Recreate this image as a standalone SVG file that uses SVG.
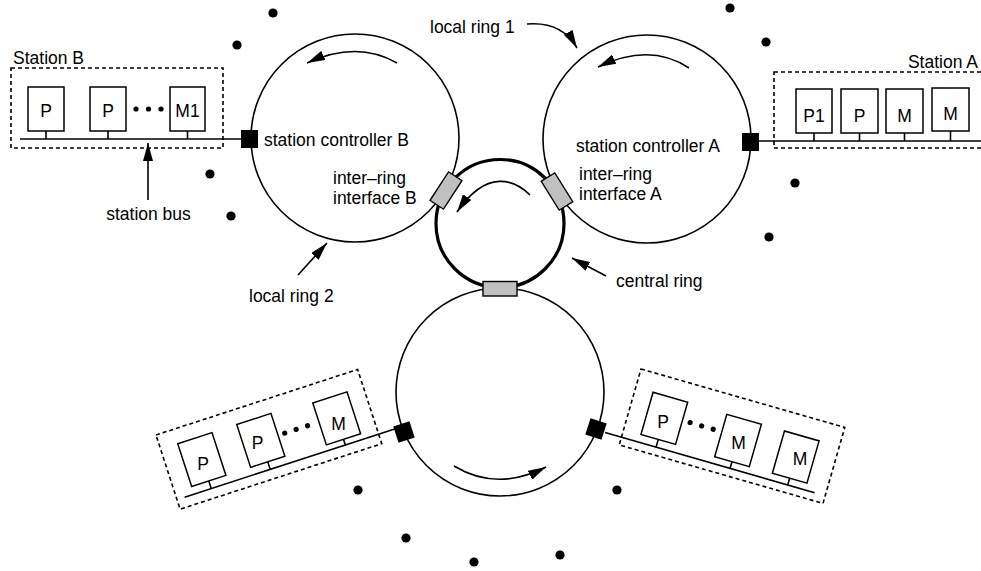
<svg xmlns="http://www.w3.org/2000/svg" width="981" height="571" viewBox="0 0 981 571">
  <style>
    .ring { fill: none; stroke: #000; stroke-width: 1.6; }
    .central { fill: none; stroke: #000; stroke-width: 3.2; }
    .iface { fill: #c0c0c0; stroke: #000; stroke-width: 1.4; }
    .ctrl { fill: #000; }
    .frame { fill: none; stroke: #000; stroke-width: 1.6; stroke-dasharray: 4 3; }
    .unit { fill: #fff; stroke: #000; stroke-width: 1.5; }
    .bus { fill: none; stroke: #000; stroke-width: 1.6; }
    .arrow { fill: none; stroke: #000; stroke-width: 1.6; marker-end: url(#head); }
    .dot { fill: #000; }
    text { font-family: "Liberation Sans", Arial, sans-serif; font-size: 17.5px; fill: #000; }
    .c { text-anchor: middle; }
    .e { text-anchor: end; }
  </style>
  <defs>
    <marker id="head" markerUnits="userSpaceOnUse" markerWidth="19" markerHeight="10" refX="18" refY="5" orient="auto">
      <path d="M0,0 L18,5 L0,10 Z" fill="#000"/>
    </marker>
  </defs>

  <!-- rings -->
  <g id="ring-local-2"><circle class="ring" cx="355" cy="138" r="104"/></g>
  <g id="ring-local-1"><circle class="ring" cx="647" cy="139" r="104"/></g>
  <g id="ring-bottom"><circle class="ring" cx="500" cy="392" r="104"/></g>
  <g id="ring-central"><circle class="central" cx="500" cy="223.5" r="64"/></g>

  <!-- inter-ring interfaces -->
  <g id="interface-B"><rect class="iface" x="-17" y="-8" width="34" height="16" transform="translate(446,190.5) rotate(-57)"/></g>
  <g id="interface-A"><rect class="iface" x="-17" y="-8" width="34" height="16" transform="translate(557,191.5) rotate(58)"/></g>
  <g id="interface-bottom"><rect class="iface" x="483" y="281.5" width="34" height="14.5"/></g>

  <!-- station controllers -->
  <g id="controller-B"><rect class="ctrl" x="241" y="130" width="17" height="18"/></g>
  <g id="controller-A"><rect class="ctrl" x="742" y="133" width="17" height="18"/></g>
  <g id="controller-bl"><rect class="ctrl" x="-8.5" y="-8.5" width="17" height="17" transform="translate(404,432) rotate(-18)"/></g>
  <g id="controller-br"><rect class="ctrl" x="-8.5" y="-8.5" width="17" height="17" transform="translate(596,429) rotate(18)"/></g>

  <!-- Station B -->
  <g id="station-B">
    <rect class="frame" x="11" y="68" width="212" height="80"/>
    <line class="bus" x1="20" y1="139" x2="241" y2="139"/>
    <path class="bus" d="M46,131 V139 M108,131 V139 M187.5,131 V139"/>
    <rect class="unit" x="28" y="87" width="36" height="44"/>
    <rect class="unit" x="90" y="87" width="36" height="44"/>
    <rect class="unit" x="170" y="87" width="35" height="44"/>
    <circle class="dot" cx="136" cy="109" r="2.6"/>
    <circle class="dot" cx="148.5" cy="109" r="2.6"/>
    <circle class="dot" cx="161" cy="109" r="2.6"/>
    <text class="c" x="46" y="116.5">P</text>
    <text class="c" x="108" y="116.5">P</text>
    <text class="c" x="187.5" y="116.5">M1</text>
    <text x="13" y="64">Station B</text>
  </g>

  <!-- Station A -->
  <g id="station-A">
    <rect class="frame" x="774" y="72" width="230" height="76"/>
    <line class="bus" x1="759" y1="141" x2="981" y2="141"/>
    <path class="bus" d="M814,133 V141 M859.5,133 V141 M904.5,133 V141 M950.5,131 V141"/>
    <rect class="unit" x="796" y="89" width="36" height="44"/>
    <rect class="unit" x="841" y="89" width="37" height="44"/>
    <rect class="unit" x="886" y="89" width="37" height="44"/>
    <rect class="unit" x="932" y="88" width="37" height="43"/>
    <text class="c" x="814" y="122">P1</text>
    <text class="c" x="859.5" y="122">P</text>
    <text class="c" x="904.5" y="122">M</text>
    <text class="c" x="950.5" y="120">M</text>
    <text class="e" x="978" y="67.5">Station A</text>
  </g>

  <!-- station on the lower left -->
  <g id="station-bl">
    <g transform="translate(156,435) rotate(-18)">
      <rect class="frame" x="0" y="0" width="212" height="78"/>
      <line class="bus" x1="8" y1="68" x2="237" y2="68"/>
      <path class="bus" d="M36,60 V68 M98,60 V68 M177,62 V68"/>
      <rect class="unit" x="18" y="15" width="36" height="45"/>
      <rect class="unit" x="80" y="15" width="36" height="45"/>
      <rect class="unit" x="159" y="18" width="36" height="44"/>
      <circle class="dot" cx="123" cy="38" r="2.6"/>
      <circle class="dot" cx="135" cy="38" r="2.6"/>
      <circle class="dot" cx="147" cy="38" r="2.6"/>
    </g>
    <text class="c" x="203" y="469.5">P</text>
    <text class="c" x="257.5" y="449">P</text>
    <text class="c" x="338.5" y="429.5">M</text>
  </g>

  <!-- station on the lower right -->
  <g id="station-br">
    <g transform="translate(641,369) rotate(16)">
      <rect class="frame" x="0" y="0" width="212" height="79"/>
      <line class="bus" x1="-17" y1="71" x2="201" y2="71"/>
      <path class="bus" d="M36,63 V71 M113,64 V71 M173,64 V71"/>
      <rect class="unit" x="18" y="19" width="36" height="44"/>
      <rect class="unit" x="95" y="20" width="36" height="44"/>
      <rect class="unit" x="155" y="20" width="36" height="44"/>
      <circle class="dot" cx="62" cy="38" r="2.6"/>
      <circle class="dot" cx="74" cy="38" r="2.6"/>
      <circle class="dot" cx="86" cy="38" r="2.6"/>
    </g>
    <text class="c" x="663" y="428">P</text>
    <text class="c" x="738.5" y="449">M</text>
    <text class="c" x="800" y="464.5">M</text>
  </g>

  <!-- connectors: direction-of-travel arrows and label pointers -->
  <g id="connectors">
    <path class="arrow" d="M397,63 Q357,40 307,63"/>
    <path class="arrow" d="M689,68 Q650,42 598,67"/>
    <path class="arrow" d="M530,195 C515,180 487,168 457,212"/>
    <path class="arrow" d="M454,466 Q497,492 546,467"/>
    <path class="arrow" d="M527,24 C552,22 568,32 577,48"/>
    <path class="arrow" d="M298,275 L327,243"/>
    <path class="arrow" d="M606,276 L572,258"/>
    <path class="arrow" d="M148,200 L148,143"/>
  </g>

  <!-- labels -->
  <g id="labels">
    <text x="430" y="33">local ring 1</text>
    <text x="249" y="302">local ring 2</text>
    <text x="616" y="287">central ring</text>
    <text class="c" x="148.5" y="220">station bus</text>
    <text x="264" y="146">station controller B</text>
    <text x="576" y="152">station controller A</text>
    <text x="333" y="183.5">inter–ring</text>
    <text x="333" y="203.5">interface B</text>
    <text x="579" y="180">inter–ring</text>
    <text x="579" y="200">interface A</text>
  </g>

  <!-- scattered dots -->
  <g id="dots">
    <circle class="dot" cx="273" cy="13" r="4.6"/>
    <circle class="dot" cx="237" cy="45" r="4.6"/>
    <circle class="dot" cx="210" cy="174" r="4.6"/>
    <circle class="dot" cx="231" cy="216" r="4.6"/>
    <circle class="dot" cx="730" cy="8" r="4.6"/>
    <circle class="dot" cx="766" cy="42" r="4.6"/>
    <circle class="dot" cx="795" cy="183" r="4.6"/>
    <circle class="dot" cx="769" cy="237" r="4.6"/>
    <circle class="dot" cx="358" cy="490" r="4.6"/>
    <circle class="dot" cx="406" cy="538" r="4.6"/>
    <circle class="dot" cx="474" cy="562" r="4.6"/>
    <circle class="dot" cx="560" cy="555" r="4.6"/>
    <circle class="dot" cx="617" cy="490" r="4.6"/>
  </g>
</svg>
